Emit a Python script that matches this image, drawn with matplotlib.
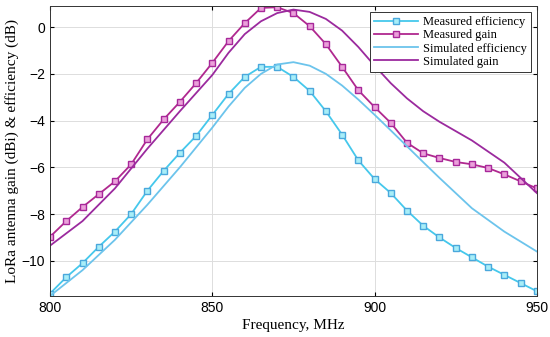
import numpy as np
import matplotlib.pyplot as plt

# measured data (5 MHz steps)
freq_meas = np.arange(800, 951, 5)
meas_eff = [-11.4, -10.7, -10.1, -9.4, -8.75, -8.0, -7.0, -6.15, -5.38, -4.66,
            -3.76, -2.86, -2.13, -1.7, -1.7, -2.13, -2.73, -3.6, -4.6, -5.7,
            -6.5, -7.1, -7.85, -8.5, -9.0, -9.45, -9.85, -10.25, -10.6, -10.95, -11.3]
meas_gain = [-8.97, -8.3, -7.7, -7.15, -6.6, -5.87, -4.8, -3.95, -3.2, -2.4,
             -1.53, -0.6, 0.17, 0.82, 0.85, 0.6, 0.04, -0.73, -1.7, -2.7,
             -3.42, -4.1, -4.95, -5.4, -5.6, -5.77, -5.87, -6.03, -6.3, -6.6, -6.9]

# simulated data
freq_sim = [800, 810, 820, 830, 840, 850, 855, 860, 865, 870, 875, 880, 885, 890,
            895, 900, 905, 910, 915, 920, 930, 940, 950]
sim_eff = [-11.5, -10.4, -9.1, -7.6, -6.0, -4.3, -3.4, -2.6, -2.0, -1.6, -1.5, -1.65,
           -2.0, -2.5, -3.1, -3.75, -4.42, -5.1, -5.78, -6.45, -7.75, -8.75, -9.6]
sim_gain = [-9.35, -8.3, -6.9, -5.2, -3.6, -2.05, -1.1, -0.3, 0.25, 0.6, 0.75, 0.65,
            0.35, -0.15, -0.85, -1.65, -2.4, -3.05, -3.6, -4.05, -4.85, -5.8, -7.1]

fig = plt.figure(figsize=(5.5, 3.37), dpi=100)
ax = fig.add_axes([0.091, 0.122, 0.885, 0.86])

ax.plot(freq_meas, meas_eff, '-s', color='#45C8EC', mfc='#A8EEF8', mec='#4AA8DC',
        ms=4.5, mew=1.0, lw=1.3, label='Measured efficiency')
ax.plot(freq_meas, meas_gain, '-s', color='#B0288F', mfc='#EBA0DA', mec='#A8289A',
        ms=4.5, mew=1.0, lw=1.3, label='Measured gain')
ax.plot(freq_sim, sim_eff, '-', color='#6CC4EC', lw=1.3, label='Simulated efficiency')
ax.plot(freq_sim, sim_gain, '-', color='#9B2A9E', lw=1.3, label='Simulated gain')

ax.set_xlim(800, 950)
ax.set_ylim(-11.5, 0.9)
ax.set_xticks([800, 850, 900, 950])
ax.set_yticks([-10, -8, -6, -4, -2, 0])
ax.grid(True, color='#DDDDDD', lw=0.7)
ax.tick_params(direction='in', top=True, right=True, labelsize=10, length=3)
for lbl in ax.get_xticklabels() + ax.get_yticklabels():
    lbl.set_family('Liberation Sans')
for s in ax.spines.values():
    s.set_color('#333333')
    s.set_linewidth(0.7)

ax.set_xlabel('Frequency, MHz', family='Liberation Serif', fontsize=11, labelpad=3)
ax.set_ylabel('LoRa antenna gain (dBi) & efficiency (dB)', family='Liberation Serif',
              fontsize=11, labelpad=2)

leg = ax.legend(loc='upper right', prop={'family': 'Liberation Serif', 'size': 9},
                fancybox=False, edgecolor='#333333', framealpha=1,
                borderpad=0.3, labelspacing=0.1, handlelength=3.5, handletextpad=0.4)
leg.get_frame().set_linewidth(0.7)

fig.savefig('out.png', dpi=100)
